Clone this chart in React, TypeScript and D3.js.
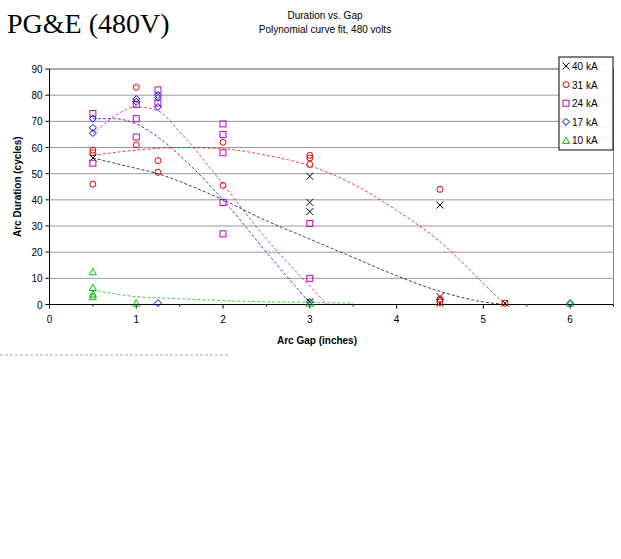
import * as d3 from "d3";

const W = 621;
const H = 559;
const M = { left: 49.5, right: 613.5, top: 69, bottom: 304.5 };

const yTicks = [0, 10, 20, 30, 40, 50, 60, 70, 80, 90];
const xTicks = [0, 1, 2, 3, 4, 5, 6];

type P = [number, number];

const s40: P[] = [[0.5, 56], [3, 49], [3, 39], [3, 35.5], [3, 1], [4.5, 38], [4.5, 3], [4.5, 0.5], [5.25, 0.5]];
const s31: P[] = [[0.5, 59], [0.5, 58], [0.5, 46], [1, 83], [1, 61], [1.25, 55], [1.25, 50.5], [2, 62], [2, 45.5], [3, 57], [3, 56], [3, 53.5], [4.5, 44], [4.5, 2], [4.5, 1], [5.25, 0.5]];
const s24: P[] = [[0.5, 73], [0.5, 54], [1, 76.5], [1, 71], [1, 64], [1.25, 82], [1.25, 77], [2, 69], [2, 65], [2, 58], [2, 39], [2, 27], [3, 31], [3, 10]];
const s17: P[] = [[0.5, 71], [0.5, 67.5], [0.5, 65.5], [1, 78.5], [1, 77.5], [1.25, 80], [1.25, 79], [1.25, 75.5], [1.25, 0.5], [3, 1], [6, 0.5]];
const s10: P[] = [[0.5, 12.5], [0.5, 6.5], [0.5, 4], [0.5, 3], [1, 0.5], [3, 0.5], [6, 0.5]];

const t40: P[] = [[0.5, 56], [1, 52], [1.25, 50], [1.5, 47], [2, 40], [2.5, 32], [3, 25], [3.5, 18], [4, 11], [4.5, 5], [5, 1], [5.25, 0]];
const t31: P[] = [[0.5, 57], [1, 59], [1.5, 60], [2, 59.5], [2.5, 57], [3, 53], [3.5, 46], [4, 36], [4.5, 24], [5, 8], [5.25, 0]];
const t24: P[] = [[0.5, 65], [0.75, 72], [1, 75.5], [1.25, 74], [1.5, 66], [2, 46], [2.5, 25], [3, 7], [3.2, 0]];
const t17: P[] = [[0.5, 71], [0.75, 71], [1, 69], [1.25, 64], [1.5, 57], [2, 40], [2.5, 20], [3, 0.5]];
const t10: P[] = [[0.5, 5.5], [1, 3], [1.5, 2.2], [2, 1.5], [2.5, 1], [3, 0.8], [3.5, 0.5]];

const series = [
  { name: "40 kA", color: "#000000", pts: s40, trend: t40, shape: "x" },
  { name: "31 kA", color: "#e00000", pts: s31, trend: t31, shape: "circle" },
  { name: "24 kA", color: "#c000c0", pts: s24, trend: t24, shape: "square" },
  { name: "17 kA", color: "#0000e0", pts: s17, trend: t17, shape: "diamond" },
  { name: "10 kA", color: "#00c000", pts: s10, trend: t10, shape: "triangle" },
];

const x = d3.scaleLinear().domain([0, 6.5]).range([M.left, M.right]);
const y = d3.scaleLinear().domain([0, 90]).range([M.bottom, M.top]);

const Marker = ({ cx, cy, shape, color }: { cx: number; cy: number; shape: string; color: string }) => {
  const st = { fill: "none", stroke: color, strokeWidth: 1 };
  if (shape === "x")
    return <path d={`M${cx - 3.5},${cy - 3.5}L${cx + 3.5},${cy + 3.5}M${cx - 3.5},${cy + 3.5}L${cx + 3.5},${cy - 3.5}`} {...st} />;
  if (shape === "circle") return <circle cx={cx} cy={cy} r={3} {...st} />;
  if (shape === "square") return <rect x={cx - 3} y={cy - 3} width={6} height={6} {...st} />;
  if (shape === "diamond") return <path d={`M${cx},${cy - 3.5}L${cx + 3.5},${cy}L${cx},${cy + 3.5}L${cx - 3.5},${cy}Z`} {...st} />;
  return <path d={`M${cx},${cy - 3.5}L${cx + 3.5},${cy + 3}L${cx - 3.5},${cy + 3}Z`} {...st} />;
};

export default function App() {
  const line = d3.line<P>().x((d) => x(d[0])).y((d) => y(d[1])).curve(d3.curveMonotoneX);
  const f = "Arial, 'Liberation Sans', sans-serif";
  return (
    <svg width={W} height={H} style={{ position: "absolute", left: 0, top: 0, background: "#fff" }}>
      <text x={7} y={33} fontFamily="'Liberation Serif', 'Times New Roman', serif" fontSize={28}>PG&amp;E (480V)</text>
      <text x={325} y={19} textAnchor="middle" fontFamily={f} fontSize={10}>Duration vs. Gap</text>
      <text x={325} y={33} textAnchor="middle" fontFamily={f} fontSize={10}>Polynomial curve fit, 480 volts</text>
      {yTicks.map((t) => (
        <g key={t}>
          {t > 0 && <line x1={M.left} x2={M.right} y1={y(t)} y2={y(t)} stroke="#999" />}
          <line x1={M.left - 4} x2={M.left} y1={y(t)} y2={y(t)} stroke="#000" />
          <text x={M.left - 7} y={y(t) + 4} textAnchor="end" fontFamily={f} fontSize={10}>{t}</text>
        </g>
      ))}
      {d3.range(0, 6.51, 0.5).map((t) => (
        <line key={t} x1={x(t)} x2={x(t)} y1={M.bottom} y2={M.bottom + (t % 1 === 0 ? 4 : 2)} stroke="#000" />
      ))}
      {xTicks.map((t) => (
        <text key={t} x={x(t)} y={M.bottom + 18} textAnchor="middle" fontFamily={f} fontSize={10}>{t}</text>
      ))}
      <line x1={M.left} x2={M.left} y1={M.top} y2={M.bottom} stroke="#000" />
      <line x1={M.left} x2={M.right} y1={M.bottom} y2={M.bottom} stroke="#000" />
      <line x1={M.right} x2={M.right} y1={M.top} y2={M.bottom} stroke="#888" />
      <line x1={M.left} x2={M.right} y1={M.top} y2={M.top} stroke="#888" />
      <text transform={`translate(21,${(M.top + M.bottom) / 2}) rotate(-90)`} textAnchor="middle" fontFamily={f} fontSize={10} fontWeight="bold">Arc Duration (cycles)</text>
      <text x={317} y={344} textAnchor="middle" fontFamily={f} fontSize={10} fontWeight="bold">Arc Gap (inches)</text>
      <line x1={0} x2={230} y1={355} y2={355} stroke="#c8d4ec" strokeWidth={2} strokeDasharray="3,2" />
      {series.map((s) => (
        <path key={s.name} d={line(s.trend) || ""} fill="none" stroke={s.color} strokeOpacity={0.75} strokeWidth={1} strokeDasharray="3,2" />
      ))}
      {series.map((s) => (
        <g key={s.name}>
          {s.pts.map((p, i) => <Marker key={i} cx={x(p[0])} cy={y(p[1])} shape={s.shape} color={s.color} />)}
        </g>
      ))}
      <rect x={559} y={57} width={54} height={93} fill="#fff" stroke="#000" />
      {series.map((s, i) => (
        <g key={s.name}>
          <Marker cx={566} cy={66 + i * 18.6} shape={s.shape} color={s.color} />
          <text x={572} y={70 + i * 18.6} fontFamily={f} fontSize={10}>{s.name}</text>
        </g>
      ))}
    </svg>
  );
}
